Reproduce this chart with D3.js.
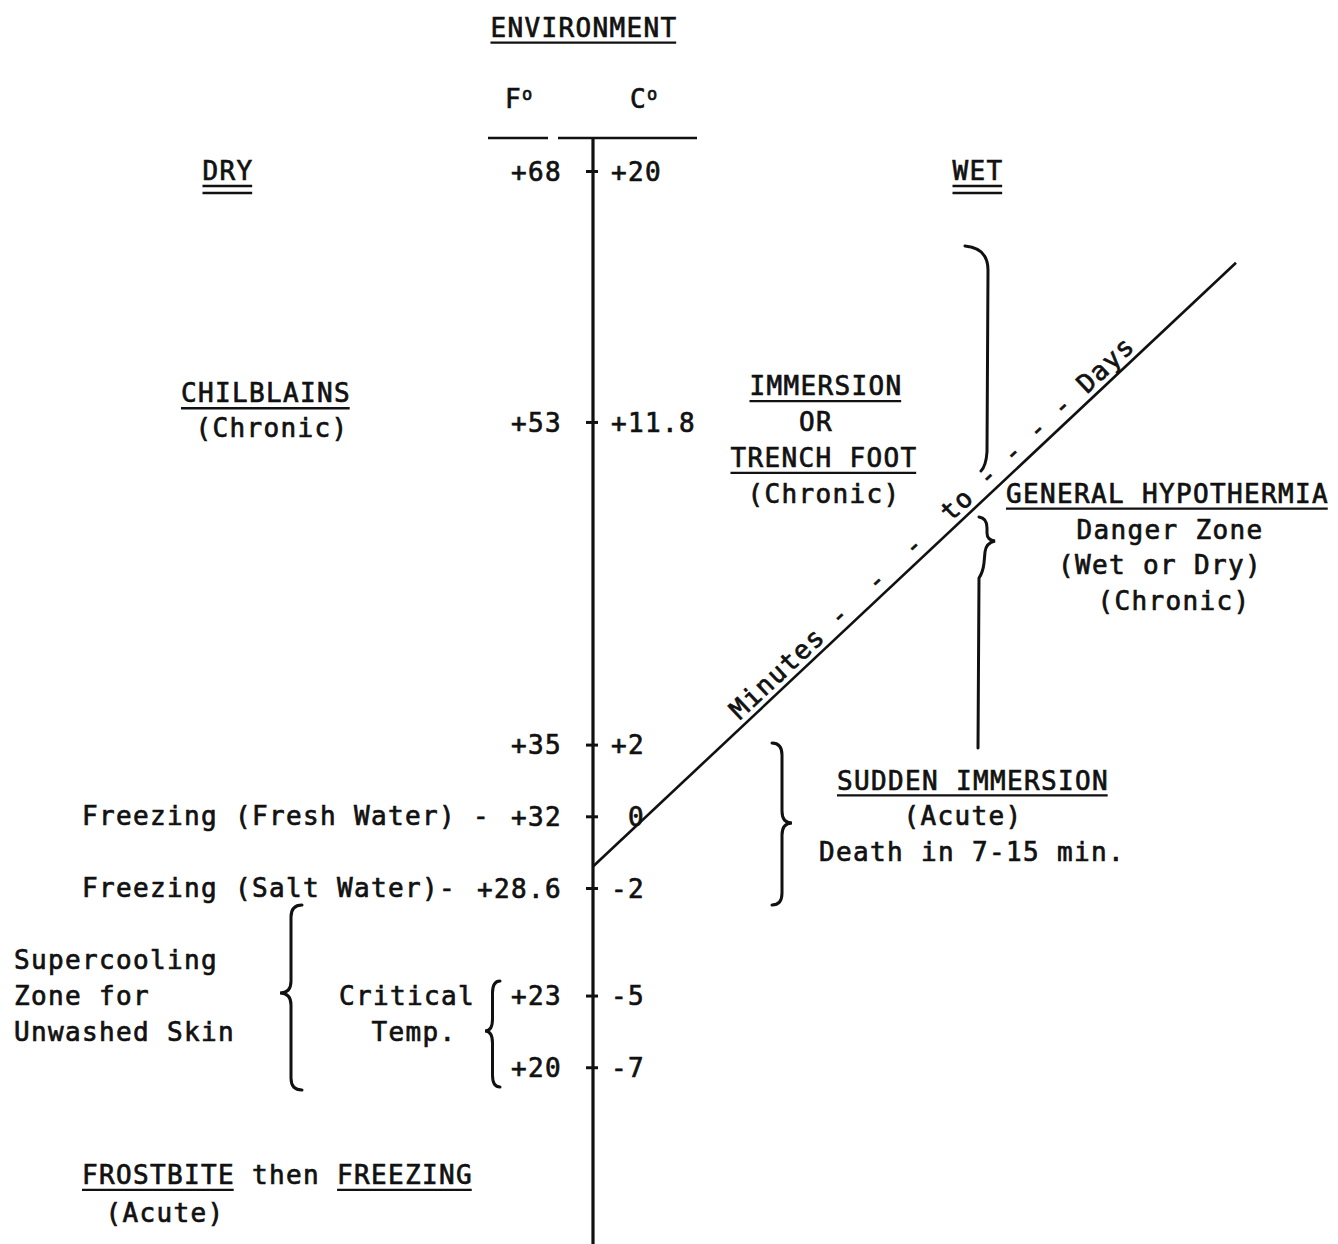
<!DOCTYPE html>
<html><head><meta charset="utf-8">
<script src="https://cdn.jsdelivr.net/npm/d3@7"></script>
<style>
html,body{margin:0;padding:0;background:#fff;}
svg text{font-family:"DejaVu Sans Mono",monospace;font-size:26px;letter-spacing:1.35px;fill:#111;stroke:#111;stroke-width:0.7px;white-space:pre;}
</style></head><body>
<svg id="chart" width="1338" height="1244"></svg>
<script>
// ---------------- data ----------------
const celsius = [20, 11.8, 2, 0, -2, -5, -7];
const fahrenheitLabels = ["+68", "+53", "+35", "+32", "+28.6", "+23", "+20"];
const celsiusLabels = ["+20", "+11.8", "+2", " 0", "-2", "-5", "-7"];
const tickRows = [0, 7, 16, 18, 20, 23, 25];          // typewriter line of each tick
const diagonalT = [0, 1];                              // fraction along time axis
const diagonalC = [-1.4, 17.0];                        // temperature (C) at ends
const diagonalText = "Minutes -  -  -  to - - - - Days";
const title = "ENVIRONMENT";
const unitNames = ["F", "C"];
const sideNames = ["DRY", "WET"];

// ---------------- layout ----------------
const svg = d3.select("#chart");
const ink = "#111";
const axisX = 593;
const line = d3.scaleLinear().domain([0, 1]).range([171, 171 + 35.85]);
const y = d3.scaleLinear().domain(celsius).range(tickRows.map(line));
const x = d3.scaleLinear().domain([0, 1]).range([axisX, 1236]);
const LS = 1.35;

function note(str, px, ln, anchor, under) {
  const t = svg.append("text").attr("x", px).attr("y", line(ln)).attr("dy", "0.35em")
    .attr("text-anchor", anchor || "start").text(str);
  if (under) {
    const b = t.node().getBBox();
    const yy = line(ln) + 15;
    const lines = under === 2 ? [yy, yy + 7] : [yy];
    lines.forEach(u => svg.append("line").attr("x1", b.x).attr("x2", b.x + b.width - LS)
      .attr("y1", u).attr("y2", u).attr("stroke", ink).attr("stroke-width", 2.3));
  }
  return t;
}

// header
note(title, 584, -4, "middle", 1);
unitNames.forEach((u, i) => {
  const t = svg.append("text").attr("x", i === 0 ? 505 : 630).attr("y", line(-2)).attr("dy", "0.35em");
  t.append("tspan").text(u);
  t.append("tspan").style("font-size", "17px").attr("dy", -8).text("o");
});
svg.append("line").attr("x1", 488).attr("x2", 548).attr("y1", 138).attr("y2", 138).attr("stroke", ink).attr("stroke-width", 2.5);
svg.append("line").attr("x1", 558).attr("x2", 697).attr("y1", 138).attr("y2", 138).attr("stroke", ink).attr("stroke-width", 2.5);

// main vertical axis
svg.append("line").attr("x1", axisX).attr("x2", axisX).attr("y1", 138).attr("y2", 1244)
  .attr("stroke", ink).attr("stroke-width", 3.2);

const gL = svg.append("g").attr("transform", `translate(${axisX},0)`)
  .call(d3.axisLeft(y).tickValues(celsius).tickFormat((d, i) => fahrenheitLabels[i]).tickSize(7).tickPadding(24));
const gR = svg.append("g").attr("transform", `translate(${axisX},0)`)
  .call(d3.axisRight(y).tickValues(celsius).tickFormat((d, i) => celsiusLabels[i]).tickSize(5).tickPadding(13));
[gL, gR].forEach(g => {
  g.select(".domain").remove();
  g.selectAll(".tick line").attr("stroke", ink).attr("stroke-width", 3);
  g.selectAll(".tick text").attr("dy", "0.35em");
});

// side labels
note(sideNames[0], 228, 0, "middle", 2);
note(sideNames[1], 978, 0, "middle", 2);

// left notes
note("CHILBLAINS", 266, 6.2, "middle", 1);
note("(Chronic)", 272, 7.17, "middle");
note("Freezing (Fresh Water) -", 82, 18, "start");
note("Freezing (Salt Water)-", 82, 20, "start");
note("Supercooling", 14, 22, "start");
note("Zone for", 14, 23, "start");
note("Unwashed Skin", 14, 24, "start");
note("Critical", 407, 23, "middle");
note("Temp.", 414, 24, "middle");

// frostbite line with partial underlines
const fb = note("FROSTBITE then FREEZING", 82, 28, "start");
const charW = fb.node().getComputedTextLength() / "FROSTBITE then FREEZING".length;
{
  const yy = line(28) + 15;
  [[0, 9], [15, 23]].forEach(([a, b]) =>
    svg.append("line").attr("x1", 82 + a * charW).attr("x2", 82 + b * charW - LS)
      .attr("y1", yy).attr("y2", yy).attr("stroke", ink).attr("stroke-width", 2.3));
}
note("(Acute)", 165, 29.05, "middle");

// right notes
note("IMMERSION", 826, 6, "middle", 1);
note("OR", 816, 7, "middle");
note("TRENCH FOOT", 824, 8, "middle", 1);
note("(Chronic)", 824, 9, "middle");
note("GENERAL HYPOTHERMIA", 1006, 9, "start", 1);
note("Danger Zone", 1170, 10, "middle");
note("(Wet or Dry)", 1160, 11, "middle");
note("(Chronic)", 1174, 12, "middle");
note("SUDDEN IMMERSION", 973, 17, "middle", 1);
note("(Acute)", 963, 18, "middle");
note("Death in 7-15 min.", 972, 19, "middle");

// diagonal line
const diag = diagonalT.map((t, i) => [x(t), y(diagonalC[i])]);
svg.append("path").attr("id", "diag").attr("d", d3.line()(diag))
  .attr("fill", "none").attr("stroke", ink).attr("stroke-width", 2.6);
// words along the diagonal, each as its own text so boxes stay small
const tokens = [];
diagonalText.replace(/\S+/g, (m, idx) => { tokens.push({ m, idx }); return m; });
tokens.forEach(tk => {
  svg.append("text").attr("dy", -6)
    .append("textPath").attr("href", "#diag").attr("startOffset", 207 + tk.idx * charW).text(tk.m);
});

// braces
function brace(bx, y0, y1, w, tipY) {
  const m = bx + w * 0.5, r = 12;
  const p = d3.path();
  p.moveTo(bx, y0);
  p.quadraticCurveTo(m, y0, m, y0 + r);
  p.lineTo(m, tipY - r);
  p.quadraticCurveTo(m, tipY, bx + w, tipY);
  p.quadraticCurveTo(m, tipY, m, tipY + r);
  p.lineTo(m, y1 - r);
  p.quadraticCurveTo(m, y1, bx, y1);
  return p.toString();
}
function strokePath(d, w) {
  svg.append("path").attr("d", d).attr("fill", "none").attr("stroke", ink)
    .attr("stroke-width", w || 3).attr("stroke-linecap", "round");
}
strokePath(brace(302, 905, 1090, -22, 993));
strokePath(brace(500, 981, 1087, -15, 1031));
strokePath(brace(772, 743, 905, 20, 823));
// upper right bracket
strokePath("M965,246 Q988,248 988,270 L987,452 Q986,466 981,471");
// hypothermia brace with long lower arm
strokePath("M979,517 Q987,518 987,528 L987,533 Q987,540 995,541 Q986,543 985,552 L984,563 Q983,572 979,578 L978,748");
</script>
</body></html>
